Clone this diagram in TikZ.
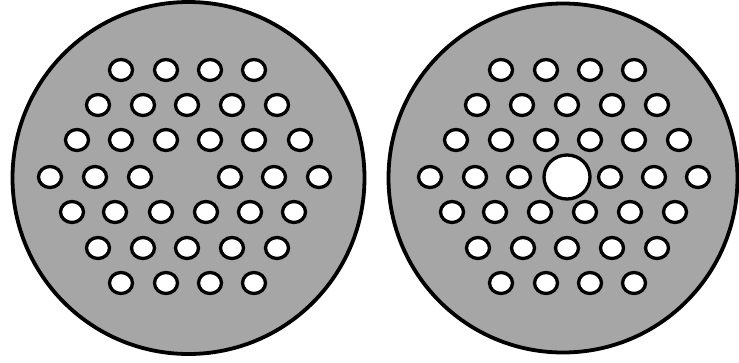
\documentclass[tikz,border=0pt]{standalone}
\definecolor{plategray}{HTML}{A6A6A6}
\tikzset{
  plate/.style={draw=black,fill=plategray,line width=3.8pt},
  hole/.style={draw=black,fill=white,line width=3.3pt},
}
\begin{document}
\begin{tikzpicture}[x=1pt,y=-1pt]
\useasboundingbox (0,0) rectangle (739,362);
% left plate
\draw[plate] (188.5,178) circle [radius=176];
\foreach \y/\xs in {70/{121,166,210,254},
                    105/{98,143,187,232,277},
                    140/{77,121,166,210,254,300},
                    177/{50,95,140,230,274,319},
                    212/{72,115,161,206,250,294},
                    248/{98,143,187,232,277},
                    283/{121,166,210,254}}{
  \foreach \x in \xs {\draw[hole] (\x,\y) ellipse [x radius=11.5,y radius=10.5];}
}
% right plate
\draw[plate] (563,178) circle [radius=174.5];
\foreach \y/\xs in {70/{501,546,590,634},
                    105/{477,522,567,612,657},
                    140/{456,501,546,590,634,679},
                    177/{430,475,519,610,654,698},
                    212/{452,495,540,585,630,675},
                    248/{478,523,567,612,657},
                    283/{501,546,590,634}}{
  \foreach \x in \xs {\draw[hole] (\x,\y) ellipse [x radius=11.5,y radius=10.5];}
}
\draw[hole] (567,177) ellipse [x radius=23,y radius=22];
\end{tikzpicture}
\end{document}
